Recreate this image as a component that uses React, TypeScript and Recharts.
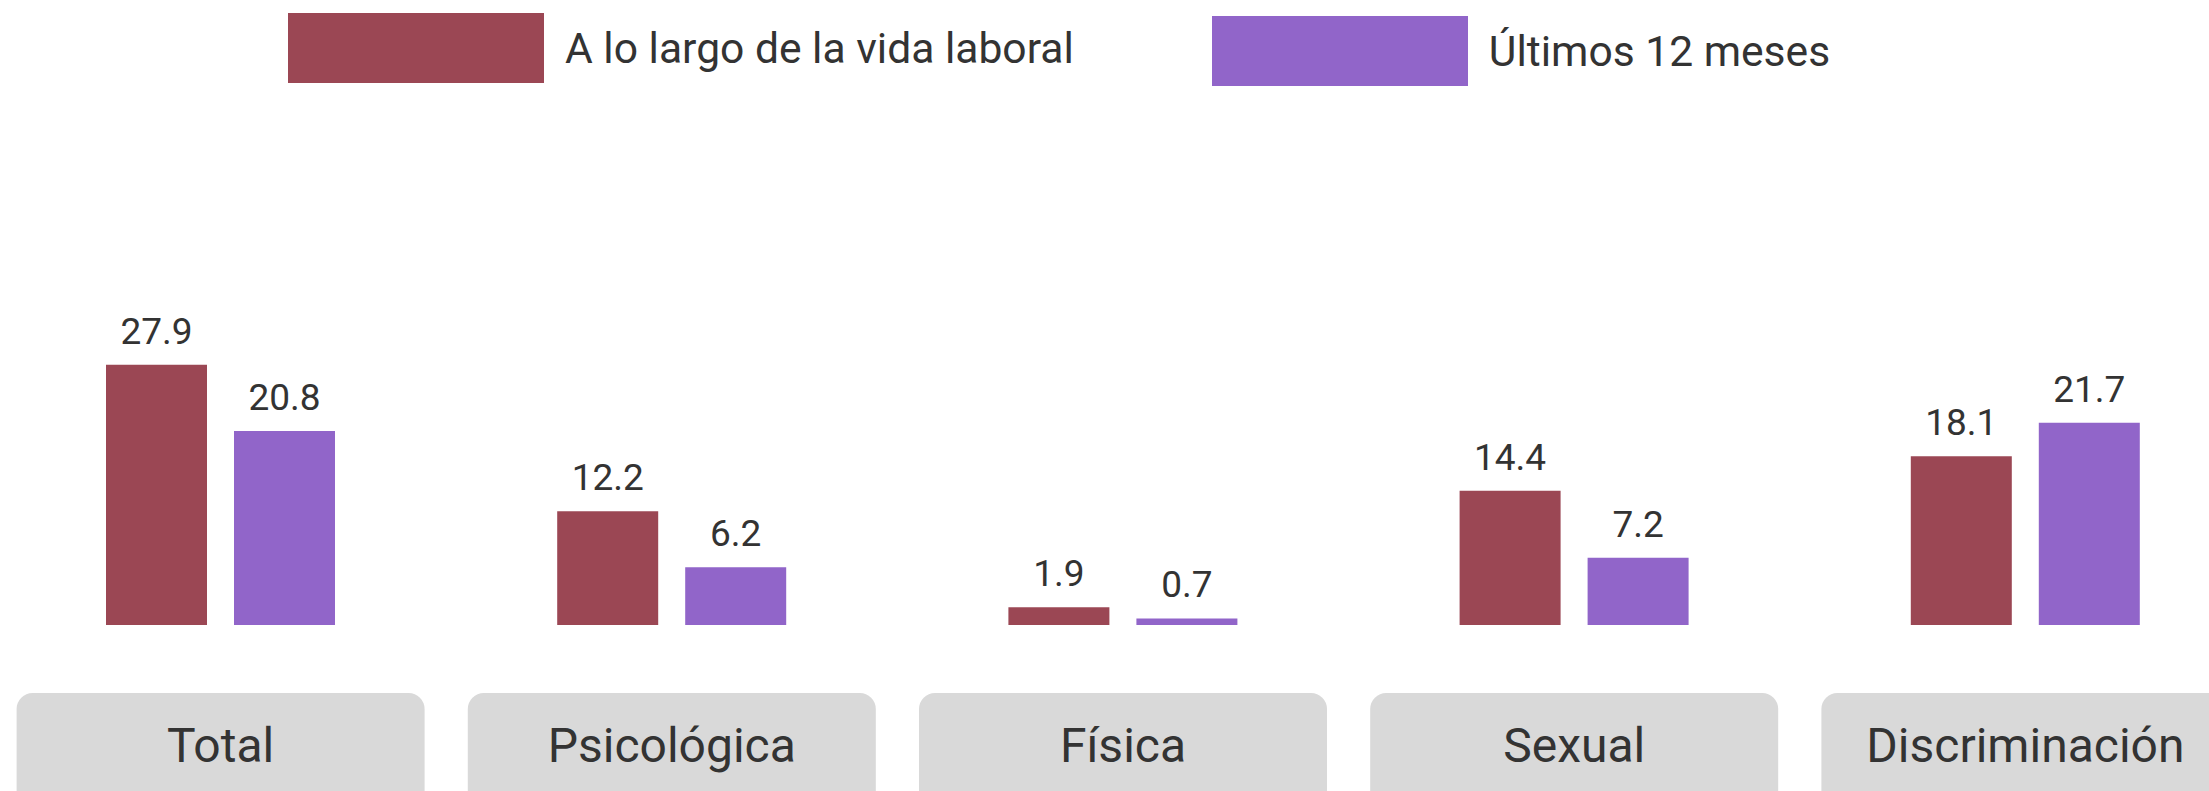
import { BarChart, Bar, XAxis, YAxis, Legend, LabelList } from "recharts";

const categories = ["Total", "Psicológica", "Física", "Sexual", "Discriminación"];
const vidaLaboral = [27.9, 12.2, 1.9, 14.4, 18.1];
const ultimos12 = [20.8, 6.2, 0.7, 7.2, 21.7];
const seriesNames = ["A lo largo de la vida laboral", "Últimos 12 meses"];

const RED = "#9b4754";
const PURPLE = "#9165c9";
const TEXT = "#333333";
const FONT = "Roboto, 'Noto Sans', sans-serif";

const data = categories.map((name, i) => ({
  name,
  vida: vidaLaboral[i],
  ultimos: ultimos12[i],
}));

/** grey rounded box under each category */
function CategoryTick({ x, y, payload }: any) {
  return (
    <g>
      <rect x={x - 204} y={y + 68} width={408} height={120} rx={16} ry={16} fill="#d9d9d9" />
      <text
        x={x}
        y={y + 137}
        textAnchor="middle"
        fill={TEXT}
        fontSize={48}
        fontFamily={FONT}
      >
        {payload.value}
      </text>
    </g>
  );
}

function TopLegend({ payload }: any) {
  return (
    <div style={{ position: "relative", height: 0 }}>
      <div
        style={{
          position: "absolute",
          left: 293,
          top: 13,
          display: "flex",
          alignItems: "flex-start",
          fontFamily: FONT,
          fontSize: 42.6,
          color: TEXT,
          whiteSpace: "nowrap",
        }}
      >
        {(payload || []).map((entry: any, i: number) => (
          <div
            key={i}
            style={{
              display: "flex",
              alignItems: "center",
              marginRight: i === 0 ? 138 : 0,
              marginTop: i === 1 ? 3 : 0,
            }}
          >
            <div style={{ width: 256, height: 70, background: entry.color, marginRight: 21 }} />
            <span>{entry.value}</span>
          </div>
        ))}
      </div>
    </div>
  );
}

export default function App() {
  return (
    <div
      style={{
        position: "absolute",
        left: 0,
        top: 0,
        width: 2209,
        height: 791,
        overflow: "hidden",
        background: "#fff",
      }}
    >
      <div style={{ position: "absolute", left: -5, top: 0 }}>
        <BarChart
          width={2256}
          height={791}
          data={data}
          margin={{ top: 252, right: 0, bottom: 0, left: 0 }}
          barGap={27}
          barSize={101}
        >
          <XAxis
            dataKey="name"
            axisLine={false}
            tickLine={false}
            tickSize={0}
            tickMargin={0}
            height={166}
            interval={0}
            tick={<CategoryTick />}
          />
          <YAxis hide domain={[0, 40]} />
          <Legend content={<TopLegend />} verticalAlign="top" wrapperStyle={{ top: 0, left: 0 }} />
          <Bar dataKey="vida" name={seriesNames[0]} fill={RED} isAnimationActive={false}>
            <LabelList
              dataKey="vida"
              position="top"
              offset={21}
              fill={TEXT}
              fontSize={37}
              fontFamily={FONT}
            />
          </Bar>
          <Bar dataKey="ultimos" name={seriesNames[1]} fill={PURPLE} isAnimationActive={false}>
            <LabelList
              dataKey="ultimos"
              position="top"
              offset={21}
              fill={TEXT}
              fontSize={37}
              fontFamily={FONT}
            />
          </Bar>
        </BarChart>
      </div>
    </div>
  );
}
